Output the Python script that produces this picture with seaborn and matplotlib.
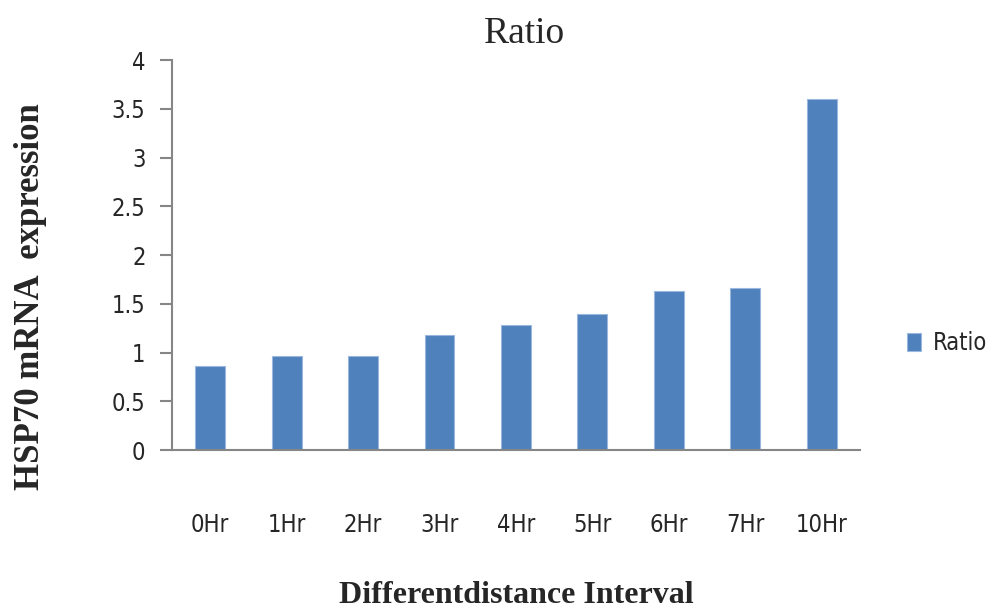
"""
Bar chart of HSP70 mRNA expression ratio over time intervals.
"""

import matplotlib
matplotlib.use('Agg')
import matplotlib.pyplot as plt
import pandas as pd
import seaborn as sns

intervals = ['0Hr', '1Hr', '2Hr', '3Hr', '4Hr', '5Hr', '6Hr', '7Hr', '10Hr']
ratio = [0.86, 0.96, 0.96, 1.18, 1.28, 1.40, 1.63, 1.66, 3.60]
y_ticks = [0, 0.5, 1, 1.5, 2, 2.5, 3, 3.5, 4]
y_ticklabels = ['0', '0.5', '1', '1.5', '2', '2.5', '3', '3.5', '4']


def main():
    sns.set_style('white')
    sans = ['DejaVu Sans']
    serif = ['Liberation Serif', 'DejaVu Serif']
    plt.rcParams['font.family'] = sans
    plt.rcParams['font.stretch'] = 'condensed'

    df = pd.DataFrame({'interval': intervals, 'ratio': ratio})
    bar_color = '#4F81BD'
    axis_color = '#868686'

    fig = plt.figure(figsize=(9.97, 6.11), dpi=100)
    ax = fig.add_axes([0.1725, 0.2635, 0.69, 0.6383])

    sns.barplot(data=df, x='interval', y='ratio', color=bar_color,
                saturation=1, width=0.39, edgecolor='#9BB7DD',
                linewidth=0.8, ax=ax, label='Ratio')

    ax.set_ylim(0, 4)
    ax.set_xlim(-0.5, len(intervals) - 0.5)
    ax.set_yticks(y_ticks)
    ax.set_yticklabels(y_ticklabels)

    for side in ['top', 'right']:
        ax.spines[side].set_visible(False)
    for side in ['left', 'bottom']:
        ax.spines[side].set_color(axis_color)
        ax.spines[side].set_linewidth(1.5)

    ax.tick_params(axis='y', length=9, width=1.5, color=axis_color,
                   direction='out', labelsize=17, pad=10, left=True)
    ax.tick_params(axis='x', length=0, labelsize=17, pad=45)

    ax.set_title('Ratio', family=serif, fontsize=27, pad=12)
    ax.title.set_x(0.513)
    ax.set_xlabel('Differentdistance Interval', family=serif,
                  fontweight='bold', fontsize=23, va='center')
    ax.xaxis.set_label_coords(0.5, -0.372)
    ax.set_ylabel('HSP70 mRNA  expression', family=serif,
                  fontweight='bold', fontsize=25, va='center')
    ax.yaxis.set_label_coords(-0.206, 0.392)

    ax.legend(loc='center left', bbox_to_anchor=(0.910, 0.4386),
              bbox_transform=fig.transFigure, frameon=False, borderpad=0,
              borderaxespad=0, fontsize=17, handlelength=0.6,
              handleheight=0.8, handletextpad=0.5)

    fig.savefig('out.png', dpi=100)


if __name__ == "__main__":
    main()
